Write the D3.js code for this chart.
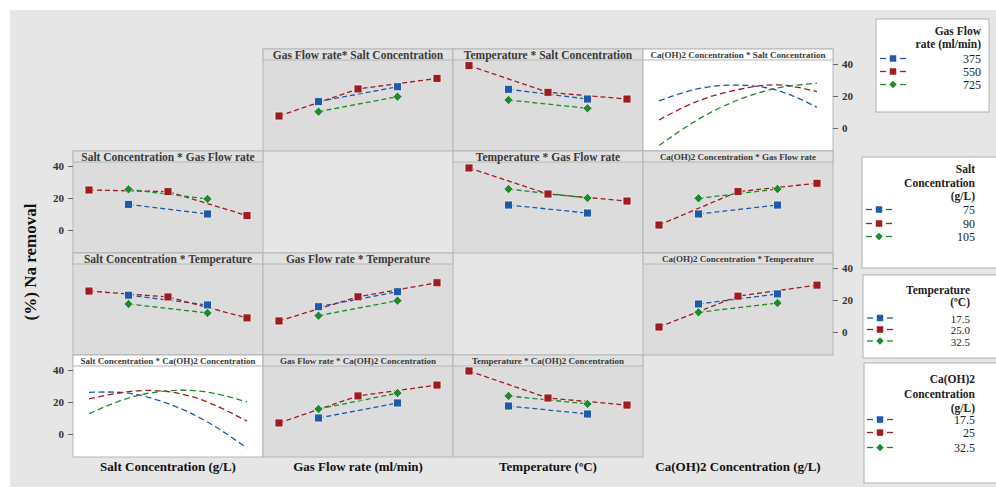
<!DOCTYPE html>
<html>
<head>
<meta charset="utf-8">
<script src="https://cdn.jsdelivr.net/npm/d3@7"></script>
<style>
  body { margin: 0; background: #fff; }
  text { font-family: "Liberation Serif", "Times New Roman", serif; }
</style>
</head>
<body>
<script>
"use strict";

// factor names and levels (-a, -1, 0, +1, +a)
const factorNames = ["Salt Concentration", "Gas Flow rate", "Temperature", "Ca(OH)2 Concentration"];
const axisTitles = ["Salt Concentration (g/L)", "Gas Flow rate (ml/min)", "Temperature (ºC)", "Ca(OH)2 Concentration (g/L)"];
const saltLevels = [60, 75, 90, 105, 120];
const gasLevels = [200, 375, 550, 725, 900];
const tempLevels = [10, 17.5, 25, 32.5, 40];
const caLevels = [10, 17.5, 25, 32.5, 40];
const factorLevels = [saltLevels, gasLevels, tempLevels, caLevels];

// each panel: [low trace (at -1,+1), centre trace (at -a,0,+a), high trace (at -1,+1)]
const gasBySalt  = [[16.5, 25.8], [7.5, 24.4, 31.0], [10.2, 19.6]];
const tempBySalt = [[24.2, 18.1], [39.0, 22.3, 18.1], [17.5, 12.3]];
const saltByGas  = [[16.0, 10.0], [25.0, 24.0, 9.0], [25.4, 19.4]];
const tempByGas  = [[15.6, 10.6], [38.8, 22.5, 18.1], [25.6, 20.0]];
const caByGas    = [[10.0, 15.6], [3.1, 24.0, 29.2], [19.8, 25.6]];
const saltByTemp = [[23.0, 16.9], [25.6, 21.9, 8.8], [17.5, 11.9]];
const gasByTemp  = [[15.8, 25.2], [6.9, 22.0, 30.8], [10.2, 19.6]];
const caByTemp   = [[17.5, 23.8], [3.1, 22.4, 29.3], [12.3, 18.1]];
const gasByCa    = [[10.0, 19.4], [6.9, 23.8, 30.6], [15.6, 25.6]];
const tempByCa   = [[17.5, 12.5], [39.4, 22.5, 18.1], [23.8, 18.8]];

// curve panels: values read at all five levels
const caBySalt   = [[17, 24.6, 26.8, 23.5, 13], [5, 17, 24, 27, 22.7], [-11, 5.5, 17.5, 25, 28]];
const saltByCa   = [[26, 25.5, 19, 7.5, -8.8], [22, 26.5, 26.5, 20, 8], [12.7, 22.5, 27, 26.2, 20]];

const panels = [
  [null, gasBySalt, tempBySalt, caBySalt],
  [saltByGas, null, tempByGas, caByGas],
  [saltByTemp, gasByTemp, null, caByTemp],
  [saltByCa, gasByCa, tempByCa, null]
];
const curvePanels = ["0,3", "3,0"];

const legendTitles = [["Gas Flow", "rate (ml/min)"], ["Salt", "Concentration", "(g/L)"], ["Temperature", "(ºC)"], ["Ca(OH)2", "Concentration", "(g/L)"]];
const legendValues = [["375", "550", "725"], ["75", "90", "105"], ["17.5", "25.0", "32.5"], ["17.5", "25", "32.5"]];
const yTicks = [0, 20, 40];

const colors = ["#1f5aa8", "#9e1b1f", "#1d8a2c"];
const W = 996, H = 495;
const colX0 = 73, colW = 190, rowY0 = 49, rowH = 102, stripH = 11;

const svg = d3.select("body").append("svg").attr("width", W).attr("height", H);
svg.append("rect").attr("width", W).attr("height", H).attr("fill", "#fff");
svg.append("rect").attr("x", 10).attr("y", 10).attr("width", W - 10).attr("height", 477).attr("fill", "#e6e6e6");

const y = d3.scaleLinear().domain([-14.4, 49.4]).range([rowH, 0]);

function markerPath(i, size) {
    return d3.symbol().type(i === 2 ? d3.symbolDiamond2 : d3.symbolSquare).size(size)();
}

for (let r = 0; r < 4; r++) {
    for (let c = 0; c < 4; c++) {
        const data = panels[r][c];
        if (!data) continue;
        const isCurve = curvePanels.includes(r + "," + c);
        const lv = factorLevels[c];
        const x = d3.scaleLinear().domain([lv[0], lv[4]]).range([16, colW - 16]);
        const g = svg.append("g").attr("transform", `translate(${colX0 + c * colW},${rowY0 + r * rowH})`);

        g.append("rect").attr("width", colW).attr("height", rowH)
            .attr("fill", isCurve ? "#fff" : "#dcdcdc").attr("stroke", "#b5b5b5");
        g.append("rect").attr("width", colW).attr("height", stripH)
            .attr("fill", isCurve ? "#fff" : "#e1e1e1").attr("stroke", "#b5b5b5");

        const title = (r === 0 && c === 1) ? "Gas Flow rate* Salt Concentration" : factorNames[c] + " * " + factorNames[r];
        const small = title.includes("Ca(OH)2");
        g.append("text").attr("x", colW / 2).attr("y", small ? 9 : 9.6)
            .attr("text-anchor", "middle").attr("font-weight", "bold")
            .attr("font-size", small ? 9 : 11.5).attr("fill", "#3a3a3a").text(title);

        const plot = g.append("g");
        data.forEach((vals, i) => {
            let idx;
            if (isCurve) idx = [0, 1, 2, 3, 4];
            else idx = i === 1 ? [0, 2, 4] : [1, 3];
            const pts = vals.map((v, k) => [x(lv[idx[k]]), y(v)]);
            plot.append("path")
                .attr("d", d3.line().curve(isCurve ? d3.curveNatural : d3.curveLinear)(pts))
                .attr("fill", "none").attr("stroke", colors[i])
                .attr("stroke-width", 1.3).attr("stroke-dasharray", isCurve ? "6,3.5" : "5,3");
        });
        if (!isCurve) {
            data.forEach((vals, i) => {
                const idx = i === 1 ? [0, 2, 4] : [1, 3];
                vals.forEach((v, k) => {
                    plot.append("path").attr("d", markerPath(i, i === 2 ? 56 : 64))
                        .attr("transform", `translate(${x(lv[idx[k]])},${y(v)})`)
                        .attr("fill", colors[i]).attr("stroke", "#f2f2f2").attr("stroke-width", 0.8);
                });
            });
        }
    }
}

// y axes: left for rows 1 and 3, right for rows 0 and 2
for (let r = 0; r < 4; r++) {
    const left = r % 2 === 1;
    const ax = left ? d3.axisLeft(y) : d3.axisRight(y);
    ax.tickValues(yTicks).tickSize(5).tickPadding(4);
    const gx = left ? colX0 : colX0 + 4 * colW;
    const ga = svg.append("g").attr("transform", `translate(${gx},${rowY0 + r * rowH})`).call(ax);
    ga.select(".domain").remove();
    ga.selectAll("line").attr("stroke", "#666");
    ga.selectAll("text").attr("font-size", 11).attr("font-weight", "bold").attr("fill", "#333")
        .style("font-family", "'Liberation Serif', serif");
}

// axis titles
axisTitles.forEach((t, c) => {
    svg.append("text").attr("x", colX0 + c * colW + colW / 2).attr("y", 471)
        .attr("text-anchor", "middle").attr("font-weight", "bold").attr("font-size", 13)
        .attr("fill", "#111").text(t);
});
svg.append("text").attr("transform", "translate(36,262) rotate(-90)")
    .attr("text-anchor", "middle").attr("font-weight", "bold").attr("font-size", 17)
    .attr("fill", "#111").text("(%) Na removal");

// legends
const legendBoxes = [
    { x: 876, y: 19, w: 113, h: 93, right: 981, titleY: [35, 48], itemY: [63, 76, 89], mx: 893 },
    { x: 862, y: 157, w: 140, h: 111, right: 975, titleY: [173, 186.5, 199.5], itemY: [214, 228, 241], mx: 879 },
    { x: 863, y: 275, w: 140, h: 83, right: 970, titleY: [294, 306], itemY: [322.5, 334, 345.5], mx: 880 },
    { x: 864, y: 363, w: 140, h: 120, right: 975, titleY: [383, 398, 411.5], itemY: [424, 437, 452], mx: 880 }
];
legendBoxes.forEach((b, li) => {
    const g = svg.append("g");
    g.append("rect").attr("x", b.x).attr("y", b.y).attr("width", b.w).attr("height", b.h)
        .attr("fill", "#fff").attr("stroke", "#b0b0b0");
    legendTitles[li].forEach((t, k) => {
        g.append("text").attr("x", b.right).attr("y", b.titleY[k]).attr("text-anchor", "end")
            .attr("font-weight", "bold").attr("font-size", 11.5).attr("fill", "#222").text(t);
    });
    legendValues[li].forEach((t, k) => {
        const my = b.itemY[k] - 4.5;
        g.append("line").attr("x1", b.mx - 13).attr("x2", b.mx - 7).attr("y1", my).attr("y2", my)
            .attr("stroke", colors[k]).attr("stroke-width", 1.3);
        g.append("line").attr("x1", b.mx + 7).attr("x2", b.mx + 13).attr("y1", my).attr("y2", my)
            .attr("stroke", colors[k]).attr("stroke-width", 1.3);
        g.append("path").attr("d", markerPath(k, k === 2 ? 36 : 42))
            .attr("transform", `translate(${b.mx},${my})`).attr("fill", colors[k]);
        g.append("text").attr("x", b.right).attr("y", b.itemY[k]).attr("text-anchor", "end")
            .attr("font-size", li === 2 ? 11 : 12).attr("fill", "#222").text(t);
    });
});
</script>
</body>
</html>
